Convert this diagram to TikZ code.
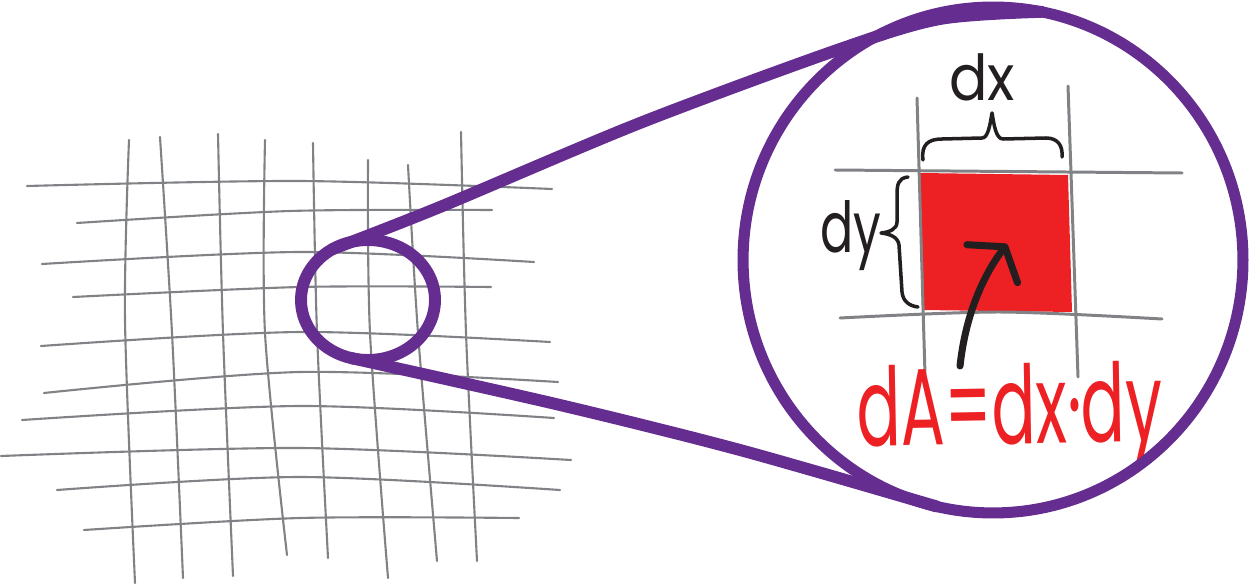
\documentclass[tikz,border=0pt]{standalone}
\usepackage{fontspec}
\setmainfont{Poppins}
\usepackage{graphicx}
\usetikzlibrary{shapes.geometric,arrows.meta}
\definecolor{lenspurple}{RGB}{102,45,145}
\definecolor{areared}{RGB}{237,32,36}
\definecolor{meshgrey}{RGB}{128,130,133}
\definecolor{inkblack}{RGB}{35,31,32}
\begin{document}
\begin{tikzpicture}[x=0.02cm,y=-0.02cm,
  gridline/.style={draw=meshgrey, line width=1.2pt, line cap=round},
  cellline/.style={draw=meshgrey, line width=1.7pt, line cap=round},
  zoomline/.style={draw=lenspurple, line width=6.8pt, line cap=round},
  bracestroke/.style={draw=inkblack, line width=2pt, line cap=round, line join=round},
  sketchlabel/.style={inner sep=0pt, anchor=base, text=inkblack}]
\useasboundingbox (0,0) rectangle (1250,584);
\draw[gridline] plot[smooth] coordinates {(27,186) (300,181) (552,189)};
\draw[gridline] plot[smooth] coordinates {(77,223) (290,211) (492,210)};
\draw[gridline] plot[smooth] coordinates {(42,264) (300,252) (534,262)};
\draw[gridline] plot[smooth] coordinates {(73,297) (300,287) (491,287)};
\draw[gridline] plot[smooth] coordinates {(41,346) (300,332) (550,342)};
\draw[gridline] plot[smooth] coordinates {(44,393) (300,372) (558,382)};
\draw[gridline] plot[smooth] coordinates {(22,420) (300,406) (554,418)};
\draw[gridline] plot[smooth] coordinates {(1,456) (300,448) (571,460)};
\draw[gridline] plot[smooth] coordinates {(57,490) (300,477) (560,490)};
\draw[gridline] plot[smooth] coordinates {(84,530) (300,518) (519,518)};
\draw[gridline] plot[smooth] coordinates {(129,140) (125,320) (135,583)};
\draw[gridline] plot[smooth] coordinates {(160,137) (172,333) (183,578)};
\draw[gridline] plot[smooth] coordinates {(218,134) (223,333) (233,576)};
\draw[gridline] plot[smooth] coordinates {(265,140) (265,333) (287,555)};
\draw[gridline] plot[smooth] coordinates {(313,143) (317,333) (328,558)};
\draw[gridline] plot[smooth] coordinates {(368,160) (370,333) (388,578)};
\draw[gridline] plot[smooth] coordinates {(408,165) (418,333) (437,561)};
\draw[gridline] plot[smooth] coordinates {(461,132) (466,333) (477,561)};
\fill[areared] (920,173) -- (1068,175) -- (1072,312) -- (922,310) -- cycle;
\draw[cellline] (835,170) -- (1182,173);
\draw[cellline] plot[smooth] coordinates {(840,318) (1000,312) (1162,319)};
\draw[cellline] (917,98) -- (925,375);
\draw[cellline] (1068,86) -- (1078,377);
\draw[bracestroke] (923,160) .. controls (921,145) and (928,139) .. (942,139) -- (982,138)
  .. controls (988,138) and (990,125) .. (992,113) .. controls (994,125) and (996,139) .. (1003,139)
  -- (1046,138) .. controls (1058,138) and (1063,146) .. (1062,157);
\draw[bracestroke] (908,177) .. controls (898,178) and (897,185) .. (897,195) -- (897,222)
  .. controls (897,229) and (890,232) .. (881,233) .. controls (890,234) and (898,237) .. (899,245)
  -- (902,292) .. controls (903,302) and (910,306) .. (918,307);
\node[sketchlabel, font=\fontsize{36}{36}\selectfont] (dxlabel) at (982,101) {\scalebox{0.9}[1]{dx}};
\node[sketchlabel, font=\fontsize{40}{40}\selectfont] (dylabel) at (851,253) {\scalebox{0.7}[1]{dy}};
\coordinate (arrowtail) at (960,366);
\coordinate (arrowtip) at (1007,244);
\draw[inkblack, line width=4pt, line cap=round, -{Straight Barb[length=12pt,width=36pt,round]}] (arrowtail) .. controls (965,320) and (980,280) .. (arrowtip);
\node[inner sep=0pt, anchor=base, text=areared, font=\fontsize{62}{62}\selectfont, rotate=1] (areaformula) at (1010,444) {\scalebox{0.6}[1]{dA=dx·dy}};
\node[draw=lenspurple, line width=6.8pt, ellipse, minimum width=2.68cm, minimum height=2.4cm, inner sep=0pt, outer sep=0pt] (spot) at (368,300) {};
\node[draw=lenspurple, line width=6.3pt, ellipse, minimum width=10cm, minimum height=10.12cm, inner sep=0pt, outer sep=0pt] (lens) at (993,260) {};
\draw[zoomline] plot[smooth] coordinates {(spot.125) (440,207) (640,123) (840,49) (940,19) (lens.79)};
\draw[zoomline] plot[smooth] coordinates {(spot.255) (560,405) (740,450) (lens.257)};
\end{tikzpicture}
\end{document}
